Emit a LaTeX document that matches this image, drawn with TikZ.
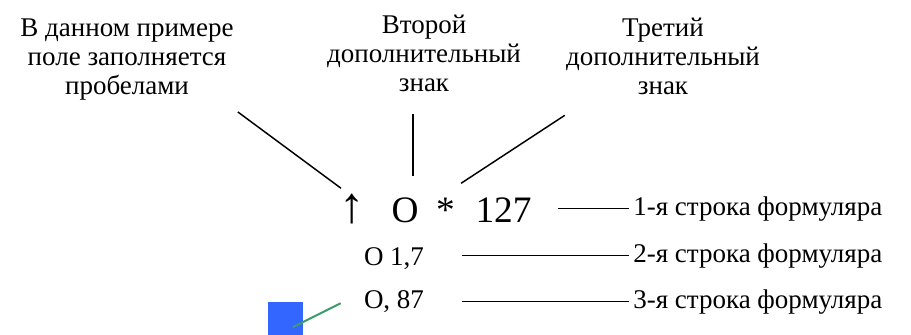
\documentclass[tikz,border=0pt]{standalone}
\usepackage{fontspec}
\setmainfont{Liberation Serif}
\usepackage{tikz}
\usetikzlibrary{positioning, calc}
\definecolor{sqblue}{HTML}{3366FF}
\definecolor{tipgreen}{HTML}{3A9E6A}

\begin{document}
\begin{tikzpicture}[
    x=0.75pt, y=-0.75pt,
    lbl/.style={align=center, inner sep=0pt, font=\fontsize{20.25}{21.75}\selectfont},
    big/.style={inner sep=0pt, anchor=base, font=\fontsize{28}{30}\selectfont},
    field/.style={inner sep=0pt, anchor=base, font=\fontsize{20.25}{21.75}\selectfont},
    rowlbl/.style={inner sep=0pt, anchor=base west, font=\fontsize{20.25}{21.75}\selectfont},
    leader/.style={line width=1.1pt}
]
    \useasboundingbox (0,0) rectangle (911,335);

    % captions above
    \node[lbl, anchor=north] (blank) at (127,19) {В данном примере\\поле заполняется\\пробелами};
    \node[lbl, anchor=north] (second) at (424,15) {Второй\\дополнительный\\знак};
    \node[lbl, anchor=north] (third) at (663,18) {Третий\\дополнительный\\знак};

    % the three lines of the form
    \node[big, font=\fontsize{38}{40}\selectfont] (arr) at (352,222) {↑};
    \node[big] (sigO) at (405,222) {O};
    \node[big] (star) at (445.5,222) {*};
    \node[big] (num) at (503.5,222) {127};
    \node[field] (row2) at (394,265) {O 1,7};
    \node[field] (row3) at (394,308) {O, 87};

    \node[rowlbl] (line1) at (633,215) {1-я строка формуляра};
    \node[rowlbl] (line2) at (633,262) {2-я строка формуляра};
    \node[rowlbl] (line3) at (633,308) {3-я строка формуляра};

    \node[fill=sqblue, minimum width=26.25pt, minimum height=24.75pt, inner sep=0pt] (sq) at (285.5,318.5) {};

    \draw[leader] ([xshift=3pt,yshift=-8.25pt]blank.south east) -- ([xshift=-8.25pt,yshift=3.75pt]arr.north);
    \draw[leader] ([xshift=-8.25pt,yshift=-16.5pt]second.south) -- ([xshift=6pt,yshift=15.6pt]sigO.north);
    \draw[leader] ([xshift=-0.75pt,yshift=-15pt]third.south west) -- ([xshift=4.5pt,yshift=10.5pt]star.north east);

    \draw[leader] ([xshift=20pt]num.east |- line1.west) -- ([xshift=-3pt]line1.west);
    \draw[leader] ([xshift=28.5pt]row2.east |- line2.west) -- ([xshift=-3pt]line2.west);
    \draw[leader] ([xshift=28.5pt]row3.east |- line3.west) -- ([xshift=-3pt]line3.west);

    \draw[tipgreen, line width=1.5pt] ([xshift=5.6pt,yshift=-6.4pt]sq.center) -- ([xshift=-17.25pt,yshift=-1.6pt]row3.west);
\end{tikzpicture}
\end{document}
